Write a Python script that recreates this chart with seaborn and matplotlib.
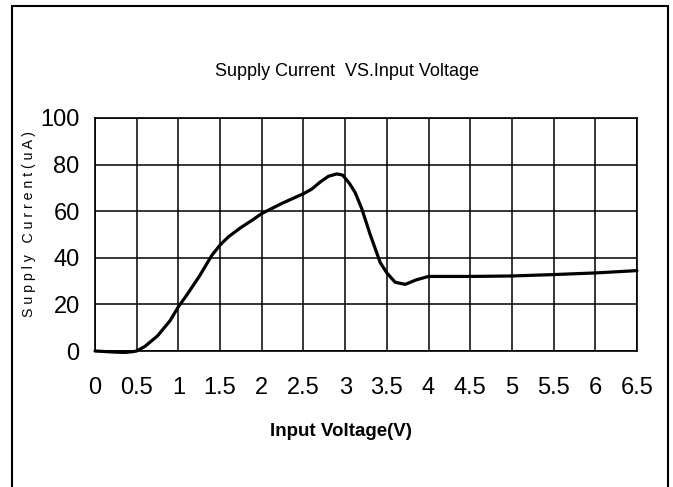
import numpy as np
import pandas as pd
import seaborn as sns
import matplotlib.pyplot as plt
from matplotlib.patches import Rectangle

# ---------- data ----------
voltage = [0, 0.1, 0.25, 0.36, 0.45, 0.5, 0.6, 0.75, 0.9, 1.0, 1.1, 1.25,
           1.4, 1.5, 1.6, 1.75, 1.9, 2.0, 2.25, 2.5, 2.6, 2.7, 2.8, 2.9,
           2.97, 3.05, 3.12, 3.2, 3.3, 3.42, 3.5, 3.6, 3.72, 3.85, 4.0,
           4.5, 5.0, 5.5, 6.0, 6.5]
current = [0, -0.2, -0.5, -0.6, -0.3, 0, 2, 6.5, 13, 19, 24, 32,
           41, 45.5, 49, 53, 56.5, 59, 63.5, 67.5, 69.5, 72.5, 75, 76,
           75.5, 72, 68, 61, 50, 38, 33.5, 29.5, 28.6, 30.5, 32,
           32, 32.2, 32.8, 33.5, 34.5]
xticks = [0, 0.5, 1, 1.5, 2, 2.5, 3, 3.5, 4, 4.5, 5, 5.5, 6, 6.5]
xtick_labels = ['0', '0.5', '1', '1.5', '2', '2.5', '3', '3.5', '4', '4.5',
                '5', '5.5', '6', '6.5']
yticks = [0, 20, 40, 60, 80, 100]

df = pd.DataFrame({'V': voltage, 'I': current})

sns.set_theme(style='white')
plt.rcParams['font.family'] = ['Liberation Sans', 'DejaVu Sans']

fig = plt.figure(figsize=(6.73, 4.87), dpi=100)
ax = fig.add_axes([95 / 673, 1 - 351 / 487, 542 / 673, 233 / 487])

sns.lineplot(data=df, x='V', y='I', color='black', linewidth=2.3, ax=ax)
for ln in ax.lines:
    ln.set_clip_on(False)
    ln.set_solid_joinstyle('round')
    ln.set_zorder(5)

ax.set_xlim(0, 6.5)
ax.set_ylim(0, 100)
ax.set_xticks(xticks)
ax.set_xticklabels(xtick_labels)
ax.set_yticks(yticks)
ax.tick_params(axis='both', length=0, labelsize=17, colors='black')
ax.tick_params(axis='x', pad=19)
ax.tick_params(axis='y', pad=11)
ax.grid(True, color='black', linewidth=1.1)
ax.set_axisbelow(True)
for s in ax.spines.values():
    s.set_color('black')
    s.set_linewidth(1.2)
ax.set_xlabel('')
ax.set_ylabel('')

# texts
fig.text(347 / 673, 1 - 71 / 487, 'Supply Current  VS.Input Voltage',
         ha='center', va='center', fontsize=13, color='black')
fig.text(341 / 673, 1 - 432 / 487, 'Input Voltage(V)', ha='center',
         va='center', fontsize=13.5, fontweight='bold', color='black')
fig.text(29 / 673, 1 - 224 / 487, 'S u p p l y   C u r r e n t ( u A )',
         rotation=90, ha='center', va='center', fontsize=10.2, color='black')

# outer frame, open at the bottom
fig.patches.append(Rectangle((12 / 673, -0.02), 656 / 673, 1.02 - 6 / 487,
                             transform=fig.transFigure, fill=False,
                             edgecolor='black', linewidth=1.5))

fig.savefig('out.png', dpi=100)
